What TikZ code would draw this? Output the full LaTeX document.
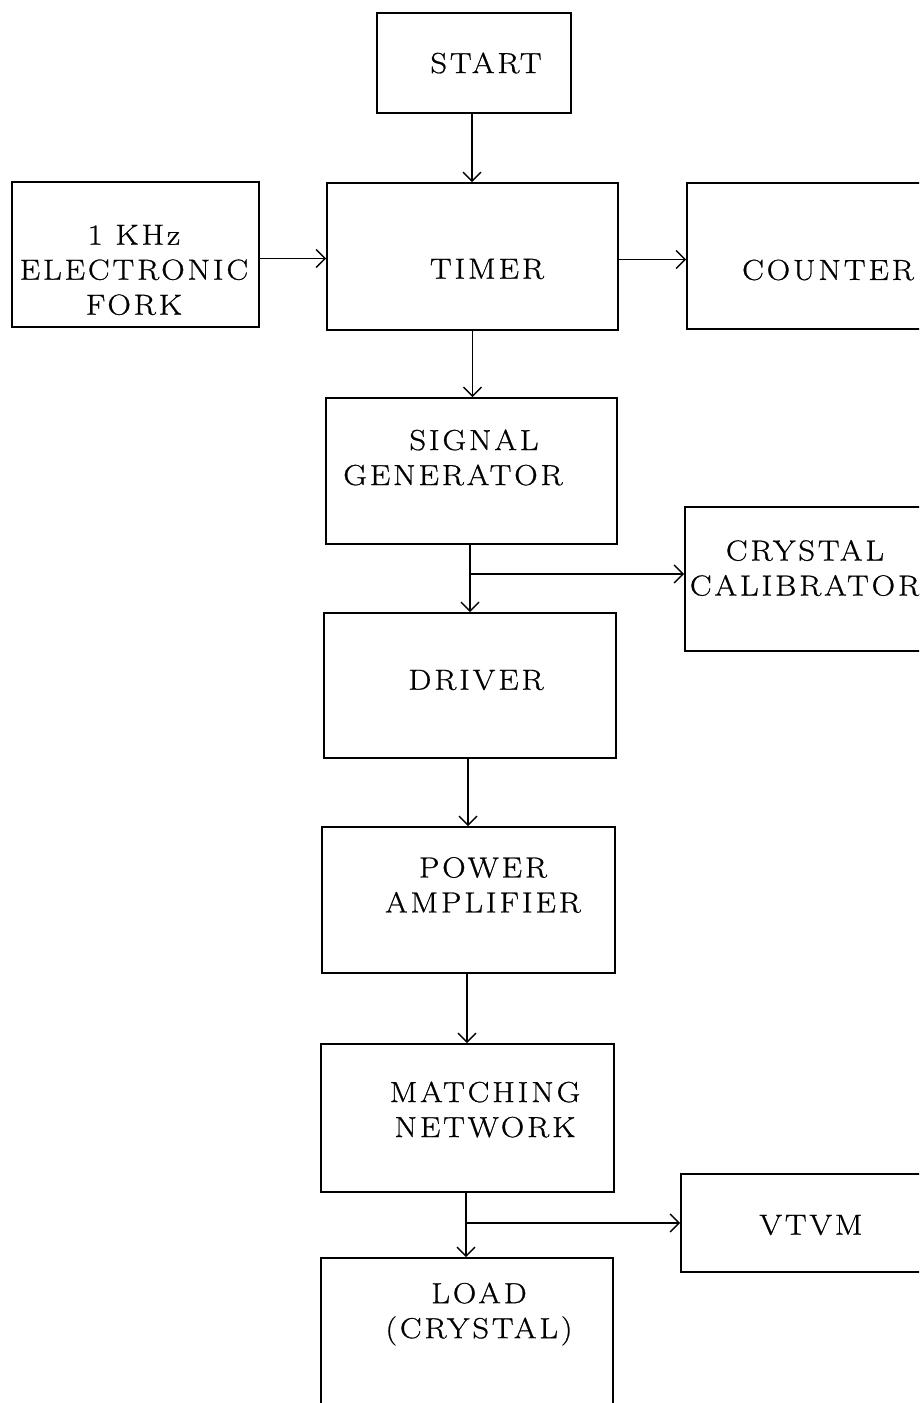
\documentclass[tikz,border=0pt]{standalone}
\usepackage{fontspec}
\usetikzlibrary{arrows.meta}
\newfontfamily\diafont{Latin Modern Roman}[FakeStretch=1.12,LetterSpace=10,FakeBold=0.8]
\tikzset{
  box/.style={draw=black, line width=1.8pt, inner sep=0pt, rectangle},
  lbl/.style={font=\diafont\fontsize{29}{35}\selectfont, align=center, inner sep=0pt},
  arr/.style={line width=1.5pt, -{Straight Barb[length=9pt,width=18pt,line width=1.4pt]}},
}
\begin{document}
\begin{tikzpicture}[x=1pt,y=-1pt]
\useasboundingbox (0,0) rectangle (919,1403);
\fill[white] (0,0) rectangle (919,1403);
\clip (0,0) rectangle (919,1403);
% boxes
\node[box, minimum width=194pt, minimum height=100pt] (start) at (474,63) {};
\node[box, minimum width=247pt, minimum height=145pt] (fork) at (135.5,254.5) {};
\node[box, minimum width=291pt, minimum height=147pt] (timer) at (472.5,256.5) {};
\node[box, minimum width=400pt, minimum height=146pt] (counter) at (887,256) {};
\node[box, minimum width=291pt, minimum height=146pt] (siggen) at (471.5,471) {};
\node[box, minimum width=400pt, minimum height=144pt] (cal) at (885,579) {};
\node[box, minimum width=292pt, minimum height=145pt] (driver) at (470,685.5) {};
\node[box, minimum width=293pt, minimum height=146pt] (power) at (468.5,900) {};
\node[box, minimum width=293pt, minimum height=148pt] (match) at (467.5,1118) {};
\node[box, minimum width=400pt, minimum height=98pt] (vtvm) at (881,1223) {};
\node[box, minimum width=292pt, minimum height=242pt] (load) at (467,1379) {};
% labels
\node[lbl] (tstart) at (486,63) {START};
\node[lbl] (tfork) at (134,270) {1 KHz\\ELECTRONIC\\FORK};
\node[lbl] (ttimer) at (487,269) {TIMER};
\node[lbl] (tcounter) at (828,270) {COUNTER};
\node[lbl] (tsiggen) at (453,457.5) {\hspace*{42pt}SIGNAL\\GENERATOR};
\node[lbl] (tcal) at (805,568) {CRYSTAL\\CALIBRATOR};
\node[lbl] (tdriver) at (476,680) {DRIVER};
\node[lbl] (tpower) at (483,885) {POWER\\AMPLIFIER};
\node[lbl] (tmatch) at (485,1109.5) {MATCHING\\NETWORK};
\node[lbl] (tvtvm) at (811,1225) {VTVM};
\node[lbl] (tload) at (479,1314) {LOAD\\(CRYSTAL)};
% connectors
\draw[arr] ([xshift=-2pt]start.south) -- ([xshift=-2pt]start.south |- timer.north);
\draw[arr] ([yshift=-4pt]fork.east) -- ([yshift=-4pt]fork.east -| timer.west);
\draw[arr] ([yshift=-3pt]timer.east) -- ([yshift=-3pt]timer.east -| counter.west);
\draw[arr] (timer.south) -- (timer.south |- siggen.north);
\draw[arr] ([xshift=-1.5pt]siggen.south) -- ([xshift=-1.5pt]siggen.south |- driver.north);
\path ([xshift=-1.5pt]siggen.south) ++(0,29) coordinate (b1);
\draw[arr] (b1) -- (b1 -| cal.west);
\draw[arr] ([xshift=-2pt]driver.south) -- ([xshift=-2pt]driver.south |- power.north);
\draw[arr] ([xshift=-1.5pt]power.south) -- ([xshift=-1.5pt]power.south |- match.north);
\draw[arr] ([xshift=-1.5pt]match.south) -- ([xshift=-1.5pt]match.south |- load.north);
\path ([xshift=-1.5pt]match.south) ++(0,30) coordinate (b2);
\draw[arr] (b2) -- (b2 -| vtvm.west);
\end{tikzpicture}
\end{document}
